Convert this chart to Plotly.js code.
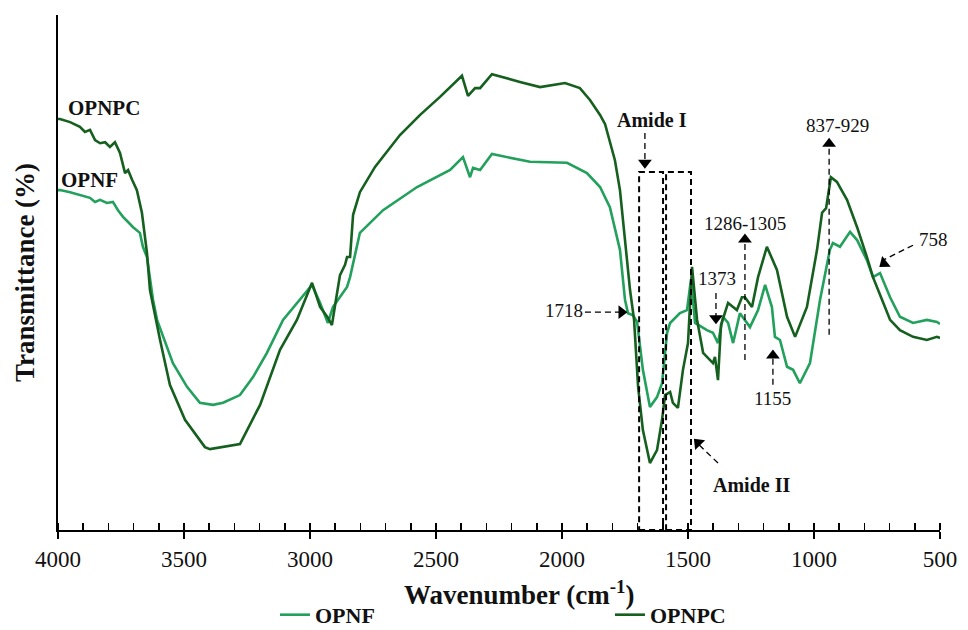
<!DOCTYPE html>
<html>
<head>
<meta charset="utf-8">
<script src="https://cdn.plot.ly/plotly-3.0.1.min.js"></script>
<style>html,body{margin:0;padding:0;background:#fff;}#chart{width:968px;height:630px;}</style>
</head>
<body>
<div id="chart"></div>
<script>
// Wavenumber (cm-1) and transmittance (arbitrary %)
const opnpcWave = [4000,3992,3952,3913,3893,3873,3853,3833,3813,3794,3774,3754,3734,3722,3706,3687,3667,3647,3635,3595,3556,3496,3417,3397,3278,3198,3119,3052,2992,2960,2929,2913,2897,2881,2861,2853,2841,2829,2802,2742,2643,2563,2484,2397,2373,2345,2325,2278,2167,2087,1988,1929,1889,1849,1829,1790,1770,1750,1730,1714,1698,1679,1651,1623,1603,1591,1571,1560,1540,1520,1500,1484,1464,1440,1401,1393,1381,1369,1341,1321,1306,1286,1274,1246,1222,1187,1147,1107,1075,1028,988,968,952,933,909,869,829,790,766,730,698,659,607,552,512,500];
const opnpcT    = [79.8,79.8,79.2,78.3,77.3,77.7,75.7,75.1,75.3,74.4,75.3,73.2,69.3,69.9,68.0,66.0,61.6,53.8,46.6,36.9,28.2,21.4,16.1,15.7,16.7,24.3,35.0,40.8,48.0,43.3,41.2,39.8,44.7,49.5,51.5,53.0,53.0,61.2,65.6,70.5,76.7,80.6,84.1,88.2,84.3,85.8,85.8,88.5,87.0,86.0,86.8,85.8,83.5,80.6,78.8,71.8,66.0,56.3,46.6,40.8,27.8,19.4,13.0,15.5,21.4,26.2,26.8,24.7,23.7,31.1,36.3,51.1,40.8,34.4,32.4,33.6,29.1,39.8,44.1,43.3,42.7,45.2,45.2,43.3,49.1,55.0,50.5,41.4,37.5,43.3,54.4,61.6,62.5,68.5,67.6,64.1,58.8,53.0,49.1,44.7,40.8,38.8,37.5,36.9,37.5,37.3];

const opnfWave = [4000,3992,3952,3913,3873,3853,3833,3806,3782,3762,3742,3722,3702,3675,3663,3647,3635,3623,3607,3544,3488,3437,3385,3345,3278,3226,3171,3107,2992,2960,2929,2909,2853,2841,2802,2710,2575,2444,2393,2365,2353,2325,2278,2127,1980,1901,1849,1810,1770,1750,1738,1718,1702,1679,1651,1623,1603,1583,1571,1532,1504,1488,1472,1425,1401,1381,1361,1341,1321,1294,1254,1222,1194,1167,1155,1135,1107,1083,1056,1016,976,937,925,897,857,829,790,766,738,698,659,607,552,512,500];
const opnfT    = [66.0,66.0,65.6,65.0,64.5,63.7,64.1,63.5,63.7,62.1,60.8,59.8,58.8,57.7,55.0,53.0,49.0,44.7,40.8,32.4,27.8,24.7,24.3,24.7,26.2,29.7,34.4,40.8,47.6,44.1,40.2,43.3,47.2,49.1,57.7,62.1,66.6,69.9,72.4,68.5,70.3,69.9,73.0,71.5,71.3,69.3,66.6,62.7,54.4,44.7,42.1,41.7,40.4,31.1,23.9,25.8,28.5,38.3,40.2,42.1,42.7,48.7,40.2,38.8,38.3,36.3,41.4,40.2,36.3,42.1,39.4,42.7,47.6,43.3,37.5,36.9,31.7,31.1,28.5,32.4,44.7,54.4,55.7,55.0,57.9,56.3,52.4,49.1,49.9,45.2,41.4,40.2,40.8,40.4,40.0];

const xTicks = [4000,3500,3000,2500,2000,1500,1000,500];
const seriesNames = ['OPNF','OPNPC'];

const SERIF = 'Liberation Serif, Times New Roman, serif';
const LIGHT = '#22a05c';
const DARK = '#16601f';

// annotation callouts (data coords)
const labelText = ['1718','1373','1286-1305','837-929','758','1155'];
const labelX    = [1992,1385,1274,905,524,1163];
const labelY    = [42.7,48.9,59.6,78.6,56.5,25.6];
const boldText  = ['Amide I','Amide II','OPNPC','OPNF'];
const boldX     = [1643,1250,3817,3877];
const boldY     = [79.6,8.7,81.9,68.0];
const boldSize  = [20,20,21,21];
// dashed arrow shafts [x0,y0,x1,y1]
const shafts = [
  [1909,42.3,1755,42.3],
  [1671,77.1,1671,71.5],
  [1389,46.0,1389,41.5],
  [1274,33.0,1274,56.5],
  [940,37.9,940,75.2],
  [1163,28.2,1163,33.8],
  [607,55.3,730,52.3],
  [1381,13.0,1470,17.2]
];
// arrow heads
const headX = [1764,1671,1389,1274,940,1163,722,1460];
const headY = [42.3,71.3,41.1,56.4,75.0,33.9,51.8,16.9];
const headAngle = [90,180,180,0,0,0,232,316];
// dashed boxes [x0,x1,top]
const boxes = [[1694,1599,69.5],[1587,1488,69.5]];

const traces = [
  {x: opnfWave, y: opnfT, name: seriesNames[0], type: 'scatter', mode: 'lines', line: {color: LIGHT, width: 2.6}},
  {x: opnpcWave, y: opnpcT, name: seriesNames[1], type: 'scatter', mode: 'lines', line: {color: DARK, width: 2.6}},
  {x: headX, y: headY, xaxis: 'x2', type: 'scatter', mode: 'markers', showlegend: false, hoverinfo: 'skip',
   marker: {symbol: 'triangle-up', size: 12, color: '#000', angle: headAngle, line: {width: 0}}}
];

const shapes = [];
shafts.forEach(s => shapes.push({type: 'line', xref: 'x', yref: 'y', x0: s[0], y0: s[1], x1: s[2], y1: s[3],
  line: {color: '#000', width: 1.3, dash: '6px,4px'}}));
boxes.forEach(b => shapes.push({type: 'rect', xref: 'x', yref: 'y', x0: b[0], x1: b[1], y0: 0, y1: b[2],
  line: {color: '#000', width: 2, dash: '6px,4px'}}));

const annotations = [];
labelText.forEach((t, i) => annotations.push({x: labelX[i], y: labelY[i], xref: 'x', yref: 'y', text: t, showarrow: false,
  font: {family: SERIF, size: 19, color: '#111'}}));
boldText.forEach((t, i) => annotations.push({x: boldX[i], y: boldY[i], xref: 'x', yref: 'y', text: '<b>' + t + '</b>', showarrow: false,
  font: {family: SERIF, size: boldSize[i], color: '#111'}}));
// x axis title (offset right of centre as in the reference)
annotations.push({xref: 'paper', yref: 'paper', x: 0.523, y: -0.123, xanchor: 'center', yanchor: 'middle', showarrow: false,
  text: '<b>Wavenumber (cm<sup>-1</sup>)</b>', font: {family: SERIF, size: 27, color: '#111'}});

const layout = {
  width: 968, height: 630,
  margin: {l: 58, r: 28, t: 15, b: 100},
  paper_bgcolor: '#fff', plot_bgcolor: '#fff',
  showlegend: true,
  legend: {orientation: 'h', x: 0.246, xanchor: 'left', yref: 'container', y: 0.024, yanchor: 'middle',
           font: {family: SERIF, size: 22, color: '#111', weight: 'bold'}, entrywidth: 290, entrywidthmode: 'pixels'},
  xaxis: {range: [4000, 500], tickvals: xTicks, ticks: 'outside', ticklen: 7, tickwidth: 2, tickcolor: '#000',
          showline: true, linecolor: '#000', linewidth: 2, showgrid: false, zeroline: false, automargin: false,
          minor: {dtick: 100, tick0: 0, ticks: 'inside', ticklen: 7, tickwidth: 1.5, tickcolor: '#000', showgrid: false},
          tickfont: {family: SERIF, size: 23, color: '#111'}},
  xaxis2: {range: [4000, 500], overlaying: 'x', anchor: 'y', side: 'bottom', tickvals: xTicks, ticks: 'inside', ticklen: 7,
           tickwidth: 2, tickcolor: '#000', showticklabels: false, showline: false, showgrid: false, zeroline: false, automargin: false},
  yaxis: {range: [0, 100], showline: true, linecolor: '#000', linewidth: 2, ticks: '', showticklabels: false,
          showgrid: false, zeroline: false, automargin: false,
          title: {text: '<b>Transmittance (%)</b>', font: {family: SERIF, size: 27, color: '#111'}, standoff: 14}},
  shapes: shapes,
  annotations: annotations
};

Plotly.newPlot('chart', traces, layout, {displayModeBar: false, staticPlot: true});
</script>
</body>
</html>
